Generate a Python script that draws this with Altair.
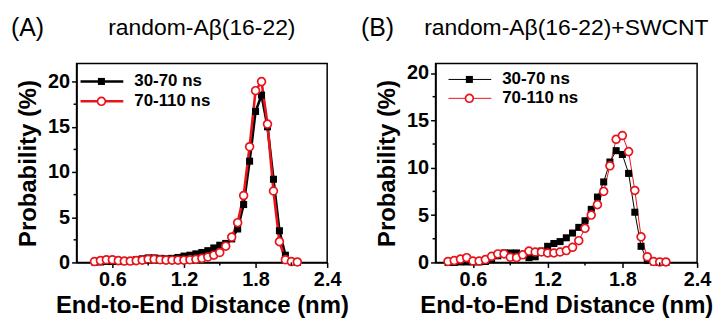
import altair as alt
import pandas as pd

FONT = "Liberation Sans"

# ---------------- data ----------------
xa = [0.45, 0.50, 0.55, 0.60, 0.65, 0.70, 0.75, 0.80, 0.85, 0.90,
      0.95, 1.00, 1.05, 1.10, 1.15, 1.20, 1.25, 1.30, 1.35, 1.40,
      1.45, 1.50, 1.55, 1.60, 1.65, 1.70, 1.75, 1.80, 1.85, 1.90,
      1.95, 2.00, 2.05, 2.10, 2.15]
a_30_70 = [0.05, 0.05, 0.1, 0.1, 0.1, 0.1, 0.15, 0.3, 0.4, 0.5,
           0.5, 0.45, 0.4, 0.45, 0.55, 0.7, 0.8, 0.95, 1.1, 1.3,
           1.6, 1.9, 2.1, 2.6, 3.7, 6.4, 11.2, 16.7, 18.5, 15.0,
           9.2, 3.5, 0.8, 0.1, 0.0]
a_70_110 = [0.1, 0.2, 0.3, 0.3, 0.2, 0.15, 0.15, 0.2, 0.25, 0.35,
            0.35, 0.3, 0.25, 0.25, 0.25, 0.25, 0.3, 0.35, 0.45, 0.6,
            0.8, 1.1, 1.8, 2.8, 4.4, 7.4, 12.8, 19.0, 20.0, 15.3,
            7.9, 2.3, 0.3, 0.1, 0.05]

xb = [0.40, 0.45, 0.50, 0.55, 0.60, 0.65, 0.70, 0.75, 0.80, 0.85,
      0.90, 0.95, 1.00, 1.05, 1.10, 1.15, 1.20, 1.25, 1.30, 1.35,
      1.40, 1.45, 1.50, 1.55, 1.60, 1.65, 1.70, 1.75, 1.80, 1.85,
      1.90, 1.95, 2.00, 2.05, 2.10, 2.15]
b_30_70 = [0.0, 0.0, 0.05, 0.05, 0.05, 0.05, 0.1, 0.3, 0.7, 1.0,
           1.0, 1.0, 0.8, 0.5, 0.6, 1.2, 1.7, 2.0, 2.2, 2.6,
           3.1, 3.7, 4.4, 5.6, 6.9, 8.5, 10.6, 11.8, 11.4, 9.4,
           5.3, 1.7, 0.2, 0.05, 0.0, 0.0]
b_70_110 = [0.1, 0.2, 0.35, 0.5, 0.15, 0.15, 0.3, 0.65, 0.9, 0.9,
            0.55, 0.5, 0.8, 1.2, 1.1, 1.1, 1.0, 1.0, 1.1, 1.25,
            1.6, 2.3, 3.6, 5.0, 6.1, 7.5, 10.2, 13.0, 13.4, 11.7,
            7.6, 2.7, 0.6, 0.1, 0.05, 0.05]

series_names = ["30-70 ns", "70-110 ns"]
x_ticks = [0.6, 1.2, 1.8, 2.4]
x_minor = [0.9, 1.5, 2.1]
y_ticks = [0, 5, 10, 15, 20]
y_minor = [2.5, 7.5, 12.5, 17.5]
x_title = "End-to-End Distance (nm)"
y_title = "Probability (%)"

RED = "#e8141c"
SQ = 50
CI = 62


def one(text):
    return alt.Chart(pd.DataFrame({"t": [text]}))


def panel(x, s1, s2, ymax, width, height, lw, letter, title, letter_x, leg_x0, leg_rows):
    df = pd.DataFrame({"x": x, "s1": s1, "s2": s2})
    base = alt.Chart(df)
    xs = alt.Scale(domain=[0.3, 2.4], nice=False, zero=False)
    ys = alt.Scale(domain=[0, ymax], nice=False)
    xax = alt.Axis(values=x_ticks, format=".1f", title=x_title, grid=False,
                   labelFont=FONT, labelFontSize=20, labelFontWeight="bold", labelColor="black",
                   labelPadding=2, labelFlush=False,
                   tickColor="black", tickWidth=1.5, tickSize=5,
                   domainColor="black", domainWidth=1.5,
                   titleFont=FONT, titleFontSize=24, titleFontWeight="bold", titleColor="black",
                   titlePadding=4)
    yax = alt.Axis(values=y_ticks, format="d", title=y_title, grid=False,
                   labelFont=FONT, labelFontSize=20, labelFontWeight="bold", labelColor="black",
                   labelPadding=2,
                   tickColor="black", tickWidth=1.5, tickSize=5,
                   domainColor="black", domainWidth=1.5,
                   titleFont=FONT, titleFontSize=24, titleFontWeight="bold", titleColor="black",
                   titlePadding=7)
    X = alt.X("x:Q", scale=xs, axis=xax)
    l1 = base.mark_line(color="black", strokeWidth=lw).encode(x=X, y=alt.Y("s1:Q", scale=ys, axis=yax))
    l2 = base.mark_line(color=RED, strokeWidth=lw).encode(x=X, y=alt.Y("s2:Q", scale=ys, axis=yax))
    p1 = base.mark_point(shape="square", filled=True, color="black", size=SQ, opacity=1).encode(
        x=X, y=alt.Y("s1:Q", scale=ys, axis=yax))
    p2 = base.mark_point(shape="circle", filled=False, fill="white", fillOpacity=1, color=RED,
                         stroke=RED, strokeWidth=1.7, size=CI, opacity=1).encode(
        x=X, y=alt.Y("s2:Q", scale=ys, axis=yax))
    # minor ticks
    mx = alt.Chart(pd.DataFrame({"x": x_minor})).mark_rule(color="black", strokeWidth=1.5).encode(
        x=alt.X("x:Q", scale=xs, axis=xax), y=alt.value(height), y2=alt.value(height + 3))
    my = alt.Chart(pd.DataFrame({"s1": y_minor})).mark_rule(color="black", strokeWidth=1.5).encode(
        y=alt.Y("s1:Q", scale=ys, axis=yax), x=alt.value(-3), x2=alt.value(0))
    # legend
    leg = []
    rows = [(series_names[0], "black", "square", True, leg_rows[0]),
            (series_names[1], RED, "circle", False, leg_rows[1])]
    for name, col, shp, filled, yy in rows:
        leg.append(one(name).mark_rule(color=col, strokeWidth=lw).encode(
            x=alt.value(leg_x0), x2=alt.value(leg_x0 + 43), y=alt.value(yy)))
        if filled:
            leg.append(one(name).mark_point(shape=shp, filled=True, color=col, size=SQ, opacity=1).encode(
                x=alt.value(leg_x0 + 21), y=alt.value(yy)))
        else:
            leg.append(one(name).mark_point(shape=shp, filled=False, fill="white", fillOpacity=1,
                                            stroke=col, strokeWidth=1.7, size=CI, opacity=1).encode(
                x=alt.value(leg_x0 + 21), y=alt.value(yy)))
        leg.append(one(name).mark_text(align="left", baseline="middle", font=FONT, fontSize=17,
                                       fontWeight="bold", color="black").encode(
            text="t:N", x=alt.value(leg_x0 + 54), y=alt.value(yy)))
    # titles
    t_letter = one(letter).mark_text(align="left", baseline="middle", font=FONT, fontSize=25,
                                     color="black").encode(text="t:N", x=alt.value(letter_x), y=alt.value(-36))
    t_title = one(title).mark_text(align="center", baseline="middle", font=FONT, fontSize=23,
                                   color="black").encode(text="t:N", x=alt.value(width / 2), y=alt.value(-36))
    return alt.layer(l1, l2, p1, p2, mx, my, *leg, t_letter, t_title).properties(width=width, height=height)


pa = panel(xa, a_30_70, a_70_110, 22, 252, 200, 2.6, "(A)", "random-Aβ(16-22)", -66, 4, (18, 38))
pb = panel(xb, b_30_70, b_70_110, 21, 263, 200, 1.0, "(B)", "random-Aβ(16-22)+SWCNT", -75, 13, (16, 35))

chart = alt.hconcat(pa, pb, spacing=109, bounds="flush").properties(
    padding={"left": 10, "top": 14, "right": 0, "bottom": 0},
    background="white",
).configure_view(stroke="black", strokeWidth=1.5)

chart.save("out.html", embed_options={"renderer": "svg", "actions": False})
